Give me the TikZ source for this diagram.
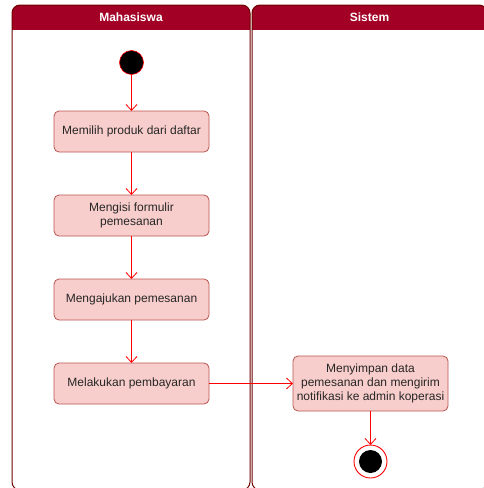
\documentclass[tikz,border=0pt]{standalone}
\usepackage{fontspec}
\setmainfont{Liberation Sans}
\usetikzlibrary{
    arrows.meta,
    positioning
}
\definecolor{laneRed}{HTML}{A20025}
\definecolor{laneLine}{HTML}{6F0000}
\definecolor{actFill}{HTML}{F8CECC}
\definecolor{actLine}{HTML}{B85450}
\definecolor{flowRed}{HTML}{FF0000}

\begin{document}
\begin{tikzpicture}[
    x=1pt, y=1pt,
    font=\fontsize{12}{14}\selectfont,
    activity/.style={
      draw=actLine,
      fill=actFill,
      line width=0.8pt,
      rounded corners=5pt,
      minimum width=155pt,
      minimum height=41pt,
      inner sep=2pt,
      outer sep=0pt,
      align=center,
      text=black!85
    },
    startdot/.style={
      circle,
      draw=flowRed,
      fill=black,
      line width=0.6pt,
      minimum size=24pt,
      inner sep=0pt,
      outer sep=0pt
    },
    enddot/.style={
      circle,
      draw=flowRed,
      fill=white,
      line width=0.9pt,
      minimum size=33pt,
      inner sep=0pt,
      outer sep=0pt,
      path picture={\fill[black] (path picture bounding box.center) circle (11.5pt);}
    },
    flow/.style={
      draw=flowRed,
      line width=0.8pt,
      -{Straight Barb[length=6pt,width=11pt]}
    },
    lane/.style={draw=laneLine, line width=1pt, rounded corners=8pt},
    laneTitle/.style={text=white, font=\fontsize{12}{14}\selectfont\bfseries}
  ]

  \useasboundingbox (0,0) rectangle (484,-488);

  % lanes {{{
  \begin{scope}
    \clip (12,-5) rectangle (250,-29);
    \fill[laneRed, rounded corners=8pt] (12,-5) rectangle (250,-60);
  \end{scope}
  \begin{scope}
    \clip (252,-5) rectangle (487,-29);
    \fill[laneRed, rounded corners=8pt] (252,-5) rectangle (487,-60);
  \end{scope}
  \draw[lane] (12,-5) rectangle (250,-490);
  \draw[lane] (252,-5) rectangle (487,-490);
  \node[laneTitle] (mhsTitle) at (131,-17) {Mahasiswa};
  \node[laneTitle] (sysTitle) at (369.5,-17) {Sistem};
  % }}}

  % Mahasiswa {{{
  \node[startdot] (start) at (131.5,-62.5) {};
  \node[activity, below=36.5pt of start] (pilih) {Memilih produk dari daftar};
  \node[activity, below=43pt of pilih] (isi) {Mengisi formulir\\pemesanan};
  \node[activity, below=43pt of isi] (ajukan) {Mengajukan pemesanan};
  \node[activity, below=43pt of ajukan] (bayar) {Melakukan pembayaran};
  % }}}

  % Sistem {{{
  \node[
    activity,
    minimum height=55pt,
    right=84pt of bayar
  ] (simpan) {Menyimpan data\\pemesanan dan mengirim\\notifikasi ke admin koperasi};
  \node[enddot, below=34pt of simpan] (end) {};
  % }}}

  \draw[flow] (start) -- (pilih);
  \draw[flow] (pilih) -- (isi);
  \draw[flow] (isi) -- (ajukan);
  \draw[flow] (ajukan) -- (bayar);
  \draw[flow] (bayar) -- (simpan);
  \draw[flow] (simpan) -- (end);

\end{tikzpicture}
\end{document}
